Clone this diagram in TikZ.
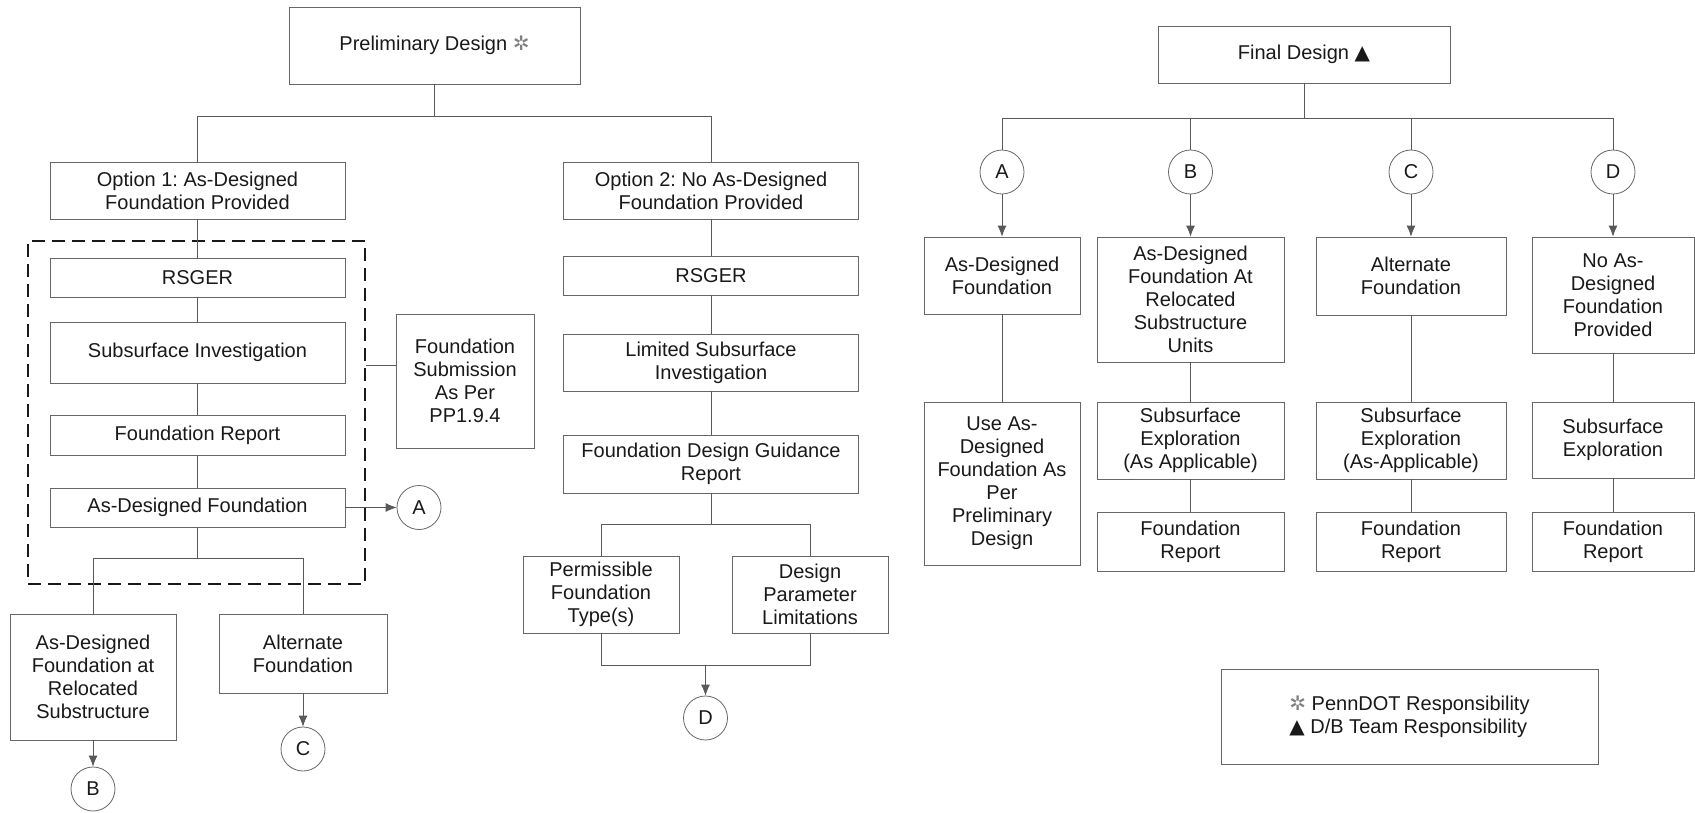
\documentclass[tikz,border=0pt]{standalone}
\usepackage{fontspec}
\setmainfont{Liberation Sans}
\newfontfamily\symfont{DejaVu Sans}
\frenchspacing
\usepackage{tikz}
\usetikzlibrary{shapes.geometric, arrows.meta}
\newcommand\pdstar{{\symfont\color{black!50}✲}}
\newcommand\dbtri{{\symfont ▲}}
\tikzstyle{block} = [draw=black!60, line width=0.8pt, rectangle, align=center,
    text=black!90, font=\fontsize{20}{23}\selectfont, inner sep=2pt]
\tikzstyle{wideblock} = [block, minimum width=295pt]
\tikzstyle{joint} = [draw=black!60, line width=0.8pt, circle, minimum size=44pt,
    inner sep=0pt, text=black!90, font=\fontsize{20}{23}\selectfont]
\tikzstyle{groupbox} = [draw=black!90, line width=1.6pt, dash pattern=on 13pt off 7pt, rectangle]
\tikzstyle{link} = [draw=black!65, line width=0.8pt]
\tikzstyle{linkarrow} = [link, -{Latex[length=11pt, width=9pt]}]

\begin{document}
\begin{tikzpicture}[x=1pt, y=-1pt]
    \useasboundingbox (0,0) rectangle (1695,812);

    \node [block, minimum width=291pt, minimum height=77pt] (prelim) at (434.5,45.5) {Preliminary Design \pdstar};
    \node [wideblock, minimum height=57pt] (opt1) at (197.5,190.5) {Option 1: As-Designed\\Foundation Provided};
    \node [wideblock, minimum height=57pt] (opt2) at (711,190.5) {Option 2: No As-Designed\\Foundation Provided};

    % option 1
    \node [groupbox, minimum width=337pt, minimum height=343pt] (grp) at (196.5,412.5) {};
    \node [wideblock, below of=opt1, node distance=87pt, minimum height=39pt] (rsg1) {RSGER};
    \node [wideblock, below of=rsg1, node distance=75pt, minimum height=61pt] (subinv) {Subsurface Investigation};
    \node [wideblock, below of=subinv, node distance=82.5pt, minimum height=40pt] (frep1) {Foundation Report};
    \node [wideblock, below of=frep1, node distance=72.5pt, minimum height=39pt] (asdes) {As-Designed Foundation};
    \node [block, minimum width=138pt, minimum height=134pt] (subm) at (465,381) {Foundation\\Submission\\As Per\\PP1.9.4};
    \node [joint] (conA) at (419,507.5) {A};
    \node [block, minimum width=166pt, minimum height=126pt] (reloc) at (93,677) {As-Designed\\Foundation at\\Relocated\\Substructure};
    \node [block, minimum width=168pt, minimum height=79pt] (alt1) at (303,653.5) {Alternate\\Foundation};
    \node [joint, below of=alt1, node distance=95.5pt] (conC) {C};
    \node [joint, below of=reloc, node distance=112pt] (conB) {B};

    % option 2
    \node [wideblock, below of=opt2, node distance=85pt, minimum height=39pt] (rsg2) {RSGER};
    \node [wideblock, below of=rsg2, node distance=87pt, minimum height=57pt] (limsub) {Limited Subsurface\\Investigation};
    \node [wideblock, below of=limsub, node distance=101.5pt, minimum height=58pt] (fdgr) {Foundation Design Guidance\\Report};
    \node [block, minimum width=156pt, minimum height=77pt] (perm) at (601,594.5) {Permissible\\Foundation\\Type(s)};
    \node [block, minimum width=156pt, minimum height=77pt] (dpl) at (810,594.5) {Design\\Parameter\\Limitations};
    \node [joint] (conD) at (705.5,718) {D};

    % final design
    \node [block, minimum width=292pt, minimum height=57pt] (final) at (1304,54.5) {Final Design \dbtri};
    \node [joint] (a2) at (1002,172) {A};
    \node [joint] (b2) at (1190.5,172) {B};
    \node [joint] (c2) at (1411,172) {C};
    \node [joint] (d2) at (1613,172) {D};

    \node [block, minimum width=156pt, minimum height=77pt] (fa1) at (1002,275.5) {As-Designed\\Foundation};
    \node [block, below of=fa1, node distance=208pt, minimum width=156pt, minimum height=163pt] (fa2) {Use As-\\Designed\\Foundation As\\Per\\Preliminary\\Design};

    \node [block, minimum width=187pt, minimum height=125pt] (fb1) at (1190.5,299.5) {As-Designed\\Foundation At\\Relocated\\Substructure\\Units};
    \node [block, below of=fb1, node distance=141pt, minimum width=187pt, minimum height=77pt] (fb2) {Subsurface\\Exploration\\(As Applicable)};
    \node [block, below of=fb2, node distance=101pt, minimum width=187pt, minimum height=59pt] (fb3) {Foundation\\Report};

    \node [block, minimum width=190pt, minimum height=78pt] (fc1) at (1411,276) {Alternate\\Foundation};
    \node [block, below of=fc1, node distance=164.5pt, minimum width=190pt, minimum height=77pt] (fc2) {Subsurface\\Exploration\\(As-Applicable)};
    \node [block, below of=fc2, node distance=101pt, minimum width=190pt, minimum height=59pt] (fc3) {Foundation\\Report};

    \node [block, minimum width=162pt, minimum height=116pt] (fd1) at (1613,295) {No As-\\Designed\\Foundation\\Provided};
    \node [block, below of=fd1, node distance=145pt, minimum width=162pt, minimum height=76pt] (fd2) {Subsurface\\Exploration};
    \node [block, below of=fd2, node distance=101.5pt, minimum width=162pt, minimum height=59pt] (fd3) {Foundation\\Report};

    \node [block, align=left, minimum width=377pt, minimum height=95pt] (legend) at (1409.5,716.5) {\pdstar{} PennDOT Responsibility\\\dbtri{} D/B Team Responsibility};

    % connectors, left
    \draw [link] (prelim.south) -- ++(0,32) coordinate (bus1);
    \draw [link] (opt1.north) |- (bus1) -| (opt2.north);
    \draw [link] (opt1) -- (rsg1) -- (subinv) -- (frep1) -- (asdes);
    \draw [linkarrow] (asdes) -- (conA);
    \coordinate (sj) at ([yshift=16pt]subm.west);
    \draw [link] (sj) -- (sj -| grp.east);
    \draw [link] (asdes.south) -- ++(0,31) coordinate (bar1);
    \draw [link] (reloc.north) |- (bar1) -| (alt1.north);
    \draw [linkarrow] (reloc) -- (conB);
    \draw [linkarrow] (alt1) -- (conC);

    \draw [link] (opt2) -- (rsg2) -- (limsub) -- (fdgr);
    \draw [link] (fdgr.south) -- ++(0,31) coordinate (bar2);
    \draw [link] (perm.north) |- (bar2) -| (dpl.north);
    \draw [link] (perm.south) -- ++(0,32) coordinate (bar3) -| (dpl.south);
    \draw [linkarrow] (bar3 -| conD.north) -- (conD.north);

    % connectors, right
    \draw [link] (final.south) -- ++(0,35) coordinate (bus2);
    \draw [link] (a2.north) |- (bus2) -| (d2.north);
    \draw [link] (b2.north) -- (b2.north |- bus2);
    \draw [link] (c2.north) -- (c2.north |- bus2);
    \draw [linkarrow] (a2) -- (fa1);
    \draw [linkarrow] (b2) -- (fb1);
    \draw [linkarrow] (c2) -- (fc1);
    \draw [linkarrow] (d2) -- (fd1);
    \draw [link] (fa1) -- (fa2);
    \draw [link] (fb1) -- (fb2) -- (fb3);
    \draw [link] (fc1) -- (fc2) -- (fc3);
    \draw [link] (fd1) -- (fd2) -- (fd3);

\end{tikzpicture}
\end{document}
